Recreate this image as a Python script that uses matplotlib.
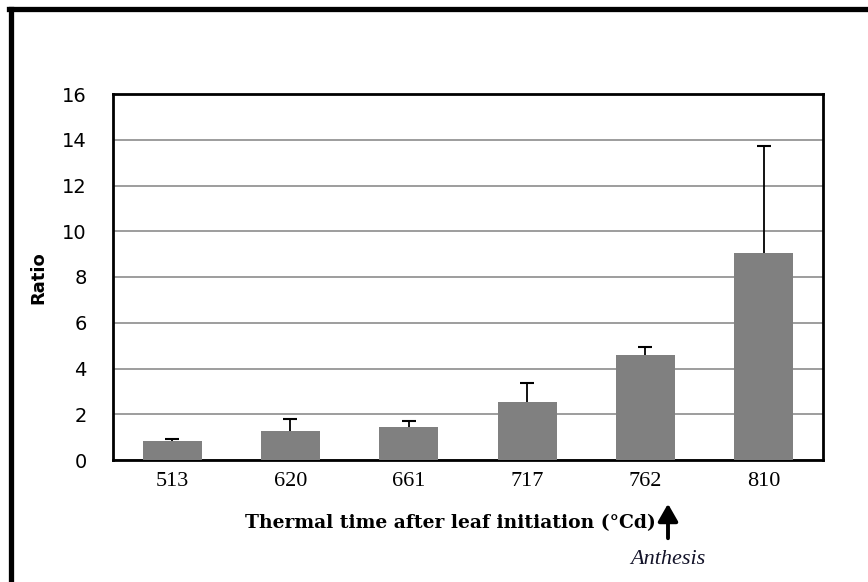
import matplotlib
matplotlib.use("Agg")
import matplotlib.pyplot as plt
from matplotlib.lines import Line2D
from matplotlib.patches import FancyArrowPatch

categories = ["513", "620", "661", "717", "762", "810"]
values = [0.84, 1.28, 1.45, 2.52, 4.6, 9.05]
errors = [0.08, 0.5, 0.27, 0.86, 0.35, 4.68]
yticks = [0, 2, 4, 6, 8, 10, 12, 14, 16]

fig = plt.figure(figsize=(8.68, 5.82), dpi=100)
W, H = 868, 582
ax = fig.add_axes([113 / W, 1 - 460 / H, (823 - 113) / W, (460 - 94) / H])

x = list(range(len(categories)))
ax.bar(x, values, width=0.5, color="#808080", edgecolor="none", zorder=3)
eb = ax.errorbar(x, values, yerr=[[0] * len(errors), errors], fmt="none",
                 ecolor="black", elinewidth=1.3, capsize=5, capthick=1.5, zorder=4)
# hide lower caps (one-sided error bars)
eb[1][0].set_visible(False)

ax.set_xlim(-0.5, len(categories) - 0.5)
ax.set_ylim(0, 16)
ax.set_yticks(yticks)
ax.set_yticklabels([str(t) for t in yticks], fontsize=14, family="DejaVu Sans")
ax.set_xticks(x)
ax.set_xticklabels(categories, fontsize=16, family="Liberation Serif")
ax.tick_params(axis="y", length=0, pad=19)
ax.tick_params(axis="x", length=0, pad=9)
ax.yaxis.grid(True, color="#8c8c8c", linewidth=1.2, zorder=0)
ax.set_axisbelow(True)
for s in ax.spines.values():
    s.set_linewidth(2)
    s.set_color("black")

fig.text(38 / W, 1 - 278 / H, "Ratio", rotation=90, fontsize=13,
         fontweight="bold", ha="center", va="center", family="DejaVu Sans")
fig.text(450 / W, 1 - 523 / H, "Thermal time after leaf initiation (°Cd)",
         fontsize=13.5, fontweight="bold", ha="center", va="center",
         family="DejaVu Serif")
fig.text(668 / W, 1 - 560 / H, "Anthesis", fontsize=16, style="italic",
         ha="center", va="center", family="Liberation Serif", color="#14142a")
fig.patches.append(FancyArrowPatch(
    (668 / W, 1 - 541 / H), (668 / W, 1 - 501 / H), transform=fig.transFigure,
    arrowstyle="-|>,head_width=4,head_length=7", color="black", linewidth=2.8,
    mutation_scale=1.5))

# outer frame (left and top only)
fig.add_artist(Line2D([10.5 / W, 10.5 / W], [0, 1 - 8.5 / H], color="black",
                      linewidth=3.8, transform=fig.transFigure))
fig.add_artist(Line2D([8.5 / W, 1], [1 - 8.5 / H, 1 - 8.5 / H], color="black",
                      linewidth=3.8, transform=fig.transFigure))

fig.savefig("out.png", dpi=100)
